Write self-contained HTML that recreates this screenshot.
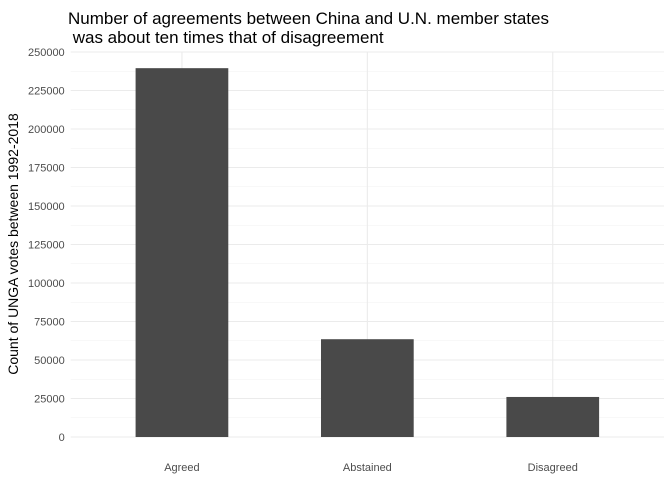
<!DOCTYPE html>
<html><head><meta charset="utf-8"><style>
body{margin:0;background:#fff;font-family:"Liberation Sans",Arial,sans-serif}
</style></head><body>
<svg id="chart" width="672" height="480" xmlns="http://www.w3.org/2000/svg">
<text x="68" y="24" font-size="17" fill="#000">Number of agreements between China and U.N. member states</text>
<text x="68" y="43" font-size="17" fill="#000">&#160;was about ten times that of disagreement</text>
<text transform="translate(18,244) rotate(-90)" text-anchor="middle" font-size="14" fill="#000">Count of UNGA votes between 1992-2018</text>
<g id="grid"></g><g id="bars"></g><g id="labels"></g>
</svg>
<script>
const categories=["Agreed","Abstained","Disagreed"];
const values=[239500,63500,26000];
const yTicks=[0,25000,50000,75000,100000,125000,150000,175000,200000,225000,250000];
const ns="http://www.w3.org/2000/svg";
const left=70.7,right=664,y0=437,y1=52,yMax=250000;
const step=(right-left)/3.2;
function xScale(i){return left+(i+0.6)*step;}
function yScale(v){return y0-(v/yMax)*(y0-y1);}
const grid=document.getElementById('grid'),bars=document.getElementById('bars'),labels=document.getElementById('labels');
function mk(t,a,p){const e=document.createElementNS(ns,t);for(const k in a)e.setAttribute(k,a[k]);p.appendChild(e);return e;}
for(let i=0;i<yTicks.length-1;i++){
  const m=(yTicks[i]+yTicks[i+1])/2;
  const l=mk('line',{x1:left,x2:right,y1:yScale(m),y2:yScale(m),stroke:'#f2f2f2','stroke-width':0.6},grid);
  
  
}
yTicks.forEach(t=>{
  const l=mk('line',{x1:left,x2:right,y1:yScale(t),y2:yScale(t),stroke:'#ebebeb','stroke-width':1.1},grid);
  
  
  const tx=mk('text',{x:left-6,y:yScale(t)+4,'text-anchor':'end','font-size':11,fill:'#4d4d4d'},labels);
  tx.textContent=t;
  
  
});
categories.forEach((c,i)=>{
  const x=xScale(i);
  const l=mk('line',{x1:x,x2:x,y1:y1,y2:y0,stroke:'#ebebeb','stroke-width':1.1},grid);
  
  
  const w=step*0.5;
  const r=mk('rect',{x:x-w/2,y:yScale(values[i]),width:w,height:y0-yScale(values[i]),fill:'#494949'},bars);
  
  
  const tx=mk('text',{x:x,y:471,'text-anchor':'middle','font-size':11,fill:'#4d4d4d'},labels);
  tx.textContent=c;
  
  
});
</script>
</body></html>
